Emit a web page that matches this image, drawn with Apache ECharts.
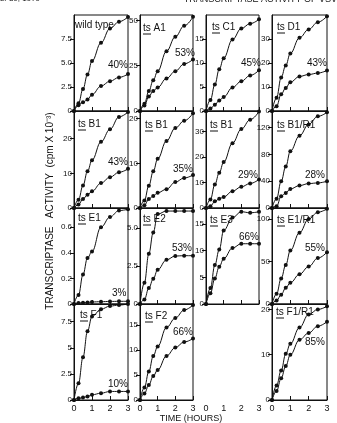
<!DOCTYPE html>
<html>
<head>
<meta charset="utf-8">
<script src="https://cdn.jsdelivr.net/npm/echarts@6/dist/echarts.min.js"></script>
<style>
  html, body { margin: 0; padding: 0; background: #fff; }
  #chart { width: 337px; height: 423px; }
</style>
</head>
<body>
<div id="chart"></div>
<script>
// sampling times (hours), shared by every panel
const hours = [0, 0.25, 0.5, 0.75, 1, 1.5, 2, 2.5, 3];
const xLabels = ['0', '1', '2', '3'];

// upper curve / lower curve for each mutant (cpm x 10^-3)
const wildUpper = [0, 0.8, 2.3, 3.8, 5.2, 7.1, 8.6, 9.3, 9.8];
const wildLower = [0, 0.6, 0.9, 1.2, 1.7, 2.6, 3.1, 3.5, 3.85];
const a1Upper = [0, 4, 11, 17, 22, 33, 41, 47, 52];
const a1Lower = [0, 3, 8, 11, 13, 18, 22, 26, 28.5];
const c1Upper = [0, 2.3, 5.5, 8.7, 11, 14.9, 17.2, 18.2, 19.1];
const c1Lower = [0, 0.5, 1.3, 2.2, 2.9, 4.9, 6.2, 7.4, 8.5];
const d1Upper = [0, 5.5, 14, 19, 24, 30.5, 34, 37, 39.5];
const d1Lower = [0, 2, 7, 9.6, 12, 14.4, 15.2, 15.8, 16.9];

const b1aUpper = [0, 2.4, 6.5, 10.6, 13.8, 19.1, 22.7, 26.3, 27.7];
const b1aLower = [0, 1, 2.6, 3.8, 4.8, 7.2, 8.9, 10.3, 11.3];
const b1bUpper = [0, 1.7, 5, 8.2, 11, 15, 17.9, 19.5, 21.2];
const b1bLower = [0, 0.6, 2, 2.7, 3.4, 4.2, 5.8, 6.7, 7.4];
const b1cUpper = [0, 3.3, 9.2, 13.8, 18, 25.4, 30.9, 34.6, 37.8];
const b1cLower = [0, 0.7, 2.6, 3.6, 4.3, 6.6, 8.3, 9.6, 11.2];
const b1r1Upper = [0, 14, 40, 62, 85, 108, 125, 137, 143];
const b1r1Lower = [0, 2.5, 17.5, 22.5, 28.5, 33.5, 36.5, 37.5, 40];

const e1Upper = [0, 0.07, 0.23, 0.36, 0.41, 0.6, 0.68, 0.73, 0.74];
const e1Lower = [0, 0.008, 0.01, 0.012, 0.016, 0.018, 0.02, 0.021, 0.021];
const e2Upper = [0, 1.4, 3.3, 4.7, 5.9, 6.1, 6.1, 6.1, 6.1];
const e2Lower = [0, 0.3, 1.05, 1.65, 2.25, 2.9, 3.15, 3.17, 3.17];
const e3Upper = [0, 3, 7.3, 10.2, 13.8, 16.2, 17.3, 17.1, 17.3];
const e3Lower = [0, 2, 4.8, 7, 8.5, 10.5, 11.3, 11.3, 11.3];
const e1r1Upper = [0, 12, 30, 46, 63, 84, 100, 108, 112];
const e1r1Lower = [0, 4, 11, 19, 25, 35, 44, 54, 61];

const f1Upper = [0, 1.6, 4.1, 6.6, 8.0, 8.7, 9.0, 9.1, 9.2];
const f1Lower = [0, 0.16, 0.23, 0.33, 0.5, 0.65, 0.82, 0.82, 0.82];
const f2Upper = [0, 2.5, 5.7, 8.8, 10.7, 14.5, 16.4, 18, 19];
const f2Lower = [0, 1.3, 3, 4.8, 6, 8.8, 10.5, 11.6, 12.3];
const f1r1Upper = [0, 3.2, 6.5, 10.2, 12.4, 16, 18.9, 20, 20.7];
const f1r1Lower = [0, 2, 4.8, 7.5, 10, 13.3, 14.8, 16.3, 17.3];

// y tick labels per panel
const wildTicks = ['0', '2.5', '5.0', '7.5'];
const a1Ticks = ['0', '25', '50'];
const c1Ticks = ['0', '5', '10', '15'];
const d1Ticks = ['0', '10', '20', '30'];
const b1aTicks = ['0', '10', '20'];
const b1bTicks = ['0', '10', '20'];
const b1cTicks = ['0', '10', '20', '30'];
const b1r1Ticks = ['0', '40', '80', '120'];
const e1Ticks = ['0', '0.2', '0.4', '0.6'];
const e2Ticks = ['0', '2.5', '5.0'];
const e3Ticks = ['0', '5', '10', '15'];
const e1r1Ticks = ['0', '50', '100'];
const f1Ticks = ['0', '2.5', '5', '7.5'];
const f2Ticks = ['0', '5', '10', '15'];
const f1r1Ticks = ['0', '10', '20'];

// grid layout
const colLeft = [74, 140, 206, 272];
const colWidth = [54, 53, 53, 55];
const rowTop = [15, 111, 208, 304];
const rowHeight = [96, 97, 96, 96];

const panels = [
  { name: 'wild type', pct: '40%', up: wildUpper, low: wildLower, max: 10, ticks: wildTicks, col: 0, row: 0, nameAt: [75, 20], pctAt: [108, 60] },
  { name: 'ts A1', pct: '53%', up: a1Upper, low: a1Lower, max: 53, ticks: a1Ticks, col: 1, row: 0, nameAt: [143, 23], pctAt: [175, 48] },
  { name: 'ts C1', pct: '45%', up: c1Upper, low: c1Lower, max: 20, ticks: c1Ticks, col: 2, row: 0, nameAt: [212, 22], pctAt: [241, 58] },
  { name: 'ts D1', pct: '43%', up: d1Upper, low: d1Lower, max: 40, ticks: d1Ticks, col: 3, row: 0, nameAt: [277, 22], pctAt: [307, 58] },
  { name: 'ts B1', pct: '43%', up: b1aUpper, low: b1aLower, max: 28, ticks: b1aTicks, col: 0, row: 1, nameAt: [78, 119], pctAt: [108, 157] },
  { name: 'ts B1', pct: '35%', up: b1bUpper, low: b1bLower, max: 21.7, ticks: b1bTicks, col: 1, row: 1, nameAt: [145, 120], pctAt: [173, 164] },
  { name: 'ts B1', pct: '29%', up: b1cUpper, low: b1cLower, max: 38, ticks: b1cTicks, col: 2, row: 1, nameAt: [210, 120], pctAt: [238, 170] },
  { name: 'ts B1/R1', pct: '28%', up: b1r1Upper, low: b1r1Lower, max: 145, ticks: b1r1Ticks, col: 3, row: 1, nameAt: [277, 120], pctAt: [305, 170] },
  { name: 'ts E1', pct: '3%', up: e1Upper, low: e1Lower, max: 0.75, ticks: e1Ticks, col: 0, row: 2, nameAt: [78, 213], pctAt: [112, 288] },
  { name: 'ts E2', pct: '53%', up: e2Upper, low: e2Lower, max: 6.3, ticks: e2Ticks, col: 1, row: 2, nameAt: [143, 214], pctAt: [172, 243] },
  { name: 'ts E3', pct: '66%', up: e3Upper, low: e3Lower, max: 18, ticks: e3Ticks, col: 2, row: 2, nameAt: [210, 215], pctAt: [239, 232] },
  { name: 'ts E1/R1', pct: '55%', up: e1r1Upper, low: e1r1Lower, max: 113, ticks: e1r1Ticks, col: 3, row: 2, nameAt: [277, 215], pctAt: [305, 243] },
  { name: 'ts F1', pct: '10%', up: f1Upper, low: f1Lower, max: 9.2, ticks: f1Ticks, col: 0, row: 3, nameAt: [80, 310], pctAt: [108, 379] },
  { name: 'ts F2', pct: '66%', up: f2Upper, low: f2Lower, max: 19.2, ticks: f2Ticks, col: 1, row: 3, nameAt: [145, 311], pctAt: [173, 327] },
  { name: 'ts F1/R1', pct: '85%', up: f1r1Upper, low: f1r1Lower, max: 21.2, ticks: f1r1Ticks, col: 3, row: 3, nameAt: [276, 307], pctAt: [305, 337] },
];

const ink = '#111';
const font = 'Liberation Sans, Arial, sans-serif';

const grids = [];
const xAxes = [];
const yAxes = [];
const series = [];
const graphics = [];

panels.forEach((p, i) => {
  const tickValues = p.ticks.map(Number);
  grids.push({
    left: colLeft[p.col], top: rowTop[p.row],
    width: colWidth[p.col], height: rowHeight[p.row],
    show: true, borderColor: ink, borderWidth: 1,
  });
  xAxes.push({
    gridIndex: i, type: 'value', min: 0, max: 3, interval: 1,
    axisLine: { show: true, lineStyle: { color: ink, width: 1 } },
    axisTick: { show: true, inside: true, length: 4, lineStyle: { color: ink } },
    axisLabel: {
      show: p.row === 3, color: ink, fontSize: 9, fontFamily: font, margin: 4,
      formatter: (v) => xLabels[v],
    },
    splitLine: { show: false },
  });
  yAxes.push({
    gridIndex: i, type: 'value', min: 0, max: p.max,
    interval: tickValues[1] - tickValues[0],
    axisLine: { show: true, lineStyle: { color: ink, width: 1 } },
    axisTick: { show: true, inside: false, length: 4, customValues: tickValues, lineStyle: { color: ink } },
    axisLabel: {
      color: ink, fontSize: 8, fontFamily: font, margin: 2,
      customValues: tickValues,
      formatter: (v) => {
        const k = tickValues.indexOf(v);
        return k < 0 ? '' : p.ticks[k];
      },
    },
    splitLine: { show: false },
  });
  [p.up, p.low].forEach((vals) => {
    series.push({
      type: 'line', xAxisIndex: i, yAxisIndex: i,
      data: hours.map((t, k) => [t, vals[k]]),
      smooth: 0.4, smoothMonotone: 'x',
      symbol: 'circle', symbolSize: 4,
      itemStyle: { color: ink },
      lineStyle: { color: ink, width: 1 },
      animation: false,
    });
  });

  // panel name, "ts" underlined
  graphics.push({
    type: 'text', left: p.nameAt[0], top: p.nameAt[1],
    style: { text: p.name, font: '10px ' + font, fill: ink },
  });
  if (p.name.startsWith('ts')) {
    graphics.push({
      type: 'line',
      shape: { x1: p.nameAt[0], y1: p.nameAt[1] + 11, x2: p.nameAt[0] + 8, y2: p.nameAt[1] + 11 },
      style: { stroke: ink, lineWidth: 1 },
    });
  }
  graphics.push({
    type: 'text', left: p.pctAt[0], top: p.pctAt[1],
    style: { text: p.pct, font: '10px ' + font, fill: ink },
  });
});

// empty slot under ts E3: only the time labels
const emptyIdx = panels.length;
grids.push({ left: colLeft[2], top: rowTop[3], width: colWidth[2], height: rowHeight[3], show: false });
xAxes.push({
  gridIndex: emptyIdx, type: 'value', min: 0, max: 3, interval: 1,
  axisLine: { show: false }, axisTick: { show: false }, splitLine: { show: false },
  axisLabel: { color: ink, fontSize: 9, fontFamily: font, margin: 4, formatter: (v) => xLabels[v] },
});
yAxes.push({ gridIndex: emptyIdx, type: 'value', show: false, min: 0, max: 1 });

// axis titles and page header
graphics.push(
  {
    type: 'text', x: 50, y: 211, rotation: Math.PI / 2,
    style: {
      text: 'TRANSCRIPTASE   ACTIVITY  (cpm X 10\u207B\u00B3)',
      font: '10px ' + font, fill: ink, align: 'center', verticalAlign: 'middle',
    },
  },
  {
    type: 'text', x: 191, y: 419,
    style: { text: 'TIME (HOURS)', font: '9px ' + font, fill: ink, align: 'center', verticalAlign: 'middle' },
  },
  {
    type: 'text', left: 0, top: -5,
    style: { text: 'L. 30, 1979', font: '8px ' + font, fill: ink },
  },
  {
    type: 'text', right: 0, top: -5,
    style: { text: 'TRANSCRIPTASE ACTIVITY OF VSV', font: '9px ' + font, fill: ink },
  }
);

const chart = echarts.init(document.getElementById('chart'));
chart.setOption({
  backgroundColor: '#fff',
  animation: false,
  grid: grids,
  xAxis: xAxes,
  yAxis: yAxes,
  series: series,
  graphic: graphics,
});
</script>
</body>
</html>
